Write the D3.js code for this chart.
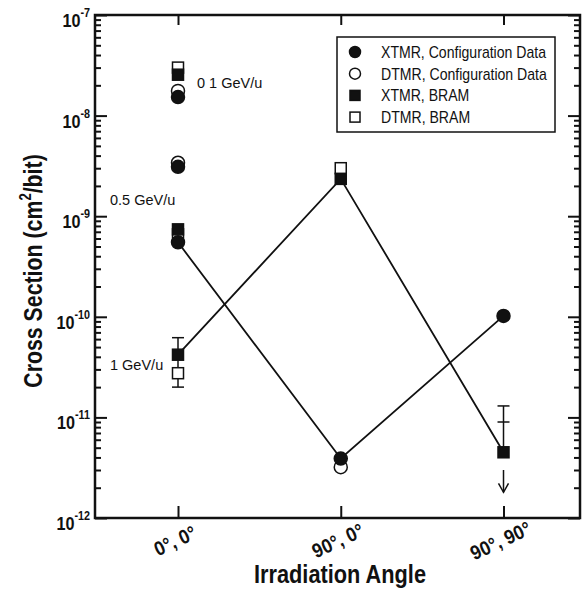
<!DOCTYPE html>
<html>
<head>
<meta charset="utf-8">
<script src="https://cdn.jsdelivr.net/npm/d3@7"></script>
<style>
  body { margin: 0; background: #fff; }
  svg { font-family: "Liberation Sans", Arial, sans-serif; }
</style>
</head>
<body>
<div id="chart"></div>
<script>
// data: [category index, cross section]
const categories = ["0°, 0°", "90°, 0°", "90°, 90°"];
const decades = [-12, -11, -10, -9, -8, -7];

const xtmrConfig = [[0, 1.53e-8], [0, 3.1e-9], [0, 5.5e-10], [1, 3.9e-12], [2, 1.02e-10]];
const dtmrConfig = [[0, 1.76e-8], [0, 3.4e-9], [1, 3.2e-12]];
const xtmrBram = [[0, 2.55e-8], [0, 7.4e-10], [0, 4.2e-11], [1, 2.35e-9], [2, 4.5e-12]];
const dtmrBram = [[0, 3.0e-8], [0, 6.6e-10], [0, 2.75e-11], [1, 3.0e-9]];

const lineConfig = [[0, 5.5e-10], [1, 3.9e-12], [2, 1.02e-10]];
const lineBram = [[0, 4.2e-11], [1, 2.35e-9], [2, 4.5e-12]];

const errorSpans = [[0, 2.0e-11, 6.2e-11], [2, 4.5e-12, 1.3e-11]];
const errorCaps = [[0, 6.2e-11], [0, 2.75e-11], [0, 2.0e-11], [2, 1.3e-11], [2, 9.0e-12]];
const upperLimits = [[2, 3.0e-12, 1.8e-12]];

const energyLabels = ["0 1 GeV/u", "0.5 GeV/u", "1 GeV/u"];
const energyLevels = [2.1e-8, 1.45e-9, 3.3e-11];

const legendLabels = ["XTMR, Configuration Data", "DTMR, Configuration Data", "XTMR, BRAM", "DTMR, BRAM"];

//CONSTANTS
const w = 587, h = 590;
const pl = 95, pr = 580, pt = 15, pb = 518;

const svg = d3.select("#chart").append("svg").attr("width", w).attr("height", h);

const x = d3.scaleLinear().domain([-0.51, 2.47]).range([pl, pr]);
const y = d3.scaleLog().domain([1e-12, 1e-7]).range([pb, pt]);

const majors = decades.map(d => Math.pow(10, d));
const minors = [];
decades.slice(0, -1).forEach(d => {
  for (let k = 2; k <= 9; k++) minors.push(k * Math.pow(10, d));
});

// Axis ticks (all pointing inwards)
const tickAxis = (axis, vals, size) => axis.tickValues(vals).tickSizeInner(size).tickSizeOuter(0).tickFormat("");
const addAxis = (axis, tx, ty) => {
  const g = svg.append("g").attr("transform", `translate(${tx},${ty})`).call(axis);
  g.select(".domain").remove();
  g.selectAll("line").attr("stroke", "#111").attr("stroke-width", 2);
  return g;
};
addAxis(tickAxis(d3.axisLeft(y), majors, -12), pl, 0);
addAxis(tickAxis(d3.axisLeft(y), minors, -6), pl, 0);
addAxis(tickAxis(d3.axisRight(y), majors, -12), pr, 0);
addAxis(tickAxis(d3.axisRight(y), minors, -6), pr, 0);
addAxis(tickAxis(d3.axisBottom(x), [0, 1, 2], -12), 0, pb);
addAxis(tickAxis(d3.axisTop(x), [0, 1, 2], -10), 0, pt);

// frame
svg.append("rect")
  .attr("x", pl).attr("y", pt)
  .attr("width", pr - pl).attr("height", pb - pt)
  .attr("fill", "none").attr("stroke", "#111").attr("stroke-width", 2.5);

// y tick labels 10^n
const ylab = svg.append("g").selectAll("text").data(decades).enter().append("text")
  .attr("transform", d => `translate(90,${y(Math.pow(10, d)) + 12}) scale(0.9,1)`)
  .attr("text-anchor", "end")
  .attr("font-size", 18).attr("font-weight", "bold").attr("fill", "#111");
ylab.append("tspan").text("10");
ylab.append("tspan").attr("dy", -10).attr("font-size", 12).text(d => d);

// x tick labels
svg.append("g").selectAll("text").data(categories).enter().append("text")
  .attr("transform", (d, i) => `translate(${x(i)},${547}) rotate(-25) scale(0.9,1)`)
  .attr("text-anchor", "middle")
  .attr("font-size", 20).attr("font-weight", "bold").attr("fill", "#111")
  .text(d => d);

// axis titles
svg.append("text")
  .attr("transform", `translate(340,583) scale(0.87,1)`)
  .attr("text-anchor", "middle")
  .attr("font-size", 25).attr("font-weight", "bold").attr("fill", "#111")
  .text("Irradiation Angle");

const ytitle = svg.append("text")
  .attr("transform", `translate(42,271) rotate(-90) scale(0.82,1)`)
  .attr("text-anchor", "middle")
  .attr("font-size", 26).attr("font-weight", "bold").attr("fill", "#111");
ytitle.append("tspan").text("Cross Section (cm");
ytitle.append("tspan").attr("dy", -11).attr("font-size", 16).text("2");
ytitle.append("tspan").attr("dy", 11).text("/bit)");

// connecting lines
const line = d3.line().x(d => x(d[0])).y(d => y(d[1]));
[lineConfig, lineBram].forEach(data => {
  svg.append("path").datum(data).attr("d", line)
    .attr("fill", "none").attr("stroke", "#111").attr("stroke-width", 1.8);
});

// error bars
svg.append("g").selectAll("line").data(errorSpans).enter().append("line")
  .attr("x1", d => x(d[0])).attr("x2", d => x(d[0]))
  .attr("y1", d => y(d[1])).attr("y2", d => y(d[2]))
  .attr("stroke", "#111").attr("stroke-width", 1.5);
svg.append("g").selectAll("line").data(errorCaps).enter().append("line")
  .attr("x1", d => x(d[0]) - 6).attr("x2", d => x(d[0]) + 6)
  .attr("y1", d => y(d[1])).attr("y2", d => y(d[1]))
  .attr("stroke", "#111").attr("stroke-width", 1.5);

// upper limit arrows
const ul = svg.append("g").selectAll("g").data(upperLimits).enter().append("g");
ul.append("line")
  .attr("x1", d => x(d[0])).attr("x2", d => x(d[0]))
  .attr("y1", d => y(d[1])).attr("y2", d => y(d[2]))
  .attr("stroke", "#111").attr("stroke-width", 1.5);
ul.append("path")
  .attr("d", d => `M${x(d[0]) - 5},${y(d[2]) - 9} L${x(d[0])},${y(d[2])} L${x(d[0]) + 5},${y(d[2]) - 9}`)
  .attr("fill", "none").attr("stroke", "#111").attr("stroke-width", 1.5);

// markers
const drawCircles = (data, filled) => svg.append("g").selectAll("circle").data(data).enter().append("circle")
  .attr("cx", d => x(d[0])).attr("cy", d => y(d[1])).attr("r", 6.5)
  .attr("fill", filled ? "#111" : "#fff").attr("stroke", "#111").attr("stroke-width", 1.5);
const drawSquares = (data, filled) => svg.append("g").selectAll("rect").data(data).enter().append("rect")
  .attr("x", d => x(d[0]) - 5.5).attr("y", d => y(d[1]) - 5.5).attr("width", 11).attr("height", 11)
  .attr("fill", filled ? "#111" : "#fff").attr("stroke", "#111").attr("stroke-width", 1.5);

drawSquares(dtmrBram, false);
drawSquares(xtmrBram, true);
drawCircles(dtmrConfig, false);
drawCircles(xtmrConfig, true);

// energy labels
svg.append("g").selectAll("text").data(energyLabels).enter().append("text")
  .attr("x", (d, i) => i === 0 ? x(0) + 19 : 110)
  .attr("y", (d, i) => y(energyLevels[i]) + 5)
  .attr("font-size", 14.5).attr("fill", "#111")
  .text(d => d);

// legend
const lg = svg.append("g").attr("transform", "translate(337,37)");
lg.append("rect").attr("width", 218).attr("height", 95)
  .attr("fill", "#fff").attr("stroke", "#111").attr("stroke-width", 1.5);
const rows = lg.selectAll("g").data(legendLabels).enter().append("g")
  .attr("transform", (d, i) => `translate(0,${15 + i * 21.7})`);
rows.each(function (d, i) {
  const g = d3.select(this);
  const filled = i % 2 === 0;
  if (i < 2) {
    g.append("circle").attr("cx", 18).attr("cy", 0).attr("r", 5.5)
      .attr("fill", filled ? "#111" : "#fff").attr("stroke", "#111").attr("stroke-width", 1.5);
  } else {
    g.append("rect").attr("x", 13).attr("y", -5).attr("width", 10).attr("height", 10)
      .attr("fill", filled ? "#111" : "#fff").attr("stroke", "#111").attr("stroke-width", 1.5);
  }
});
rows.append("text").attr("transform", "translate(44,6) scale(0.88,1)")
  .attr("font-size", 16).attr("fill", "#111")
  .text(d => d);
</script>
</body>
</html>
